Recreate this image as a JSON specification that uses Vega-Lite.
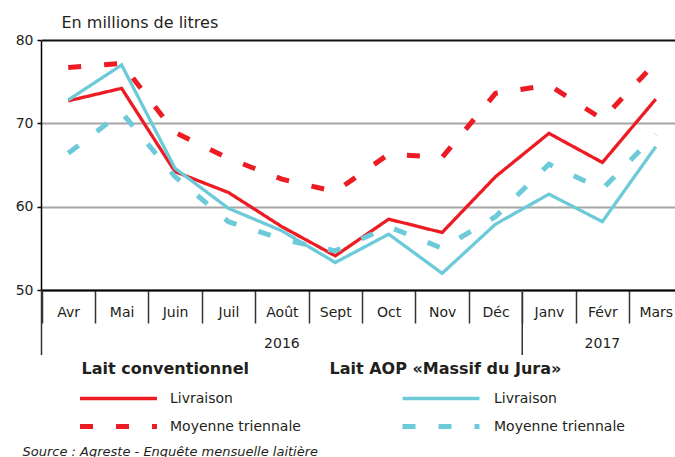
{
  "$schema": "https://vega.github.io/schema/vega-lite/v6.json",
  "autosize": {"type": "none"},
  "padding": {"left": 41, "top": 40, "right": 0, "bottom": 167},
  "width": 634,
  "height": 250,
  "background": "white",
  "config": {"view": {"stroke": null}, "font": "DejaVu Sans"},
  "datasets": {
    "conv": [
      {"month": "Avr", "type": "Livraison", "value": 72.7},
      {"month": "Mai", "type": "Livraison", "value": 74.2},
      {"month": "Juin", "type": "Livraison", "value": 64.2},
      {"month": "Juil", "type": "Livraison", "value": 61.7},
      {"month": "Août", "type": "Livraison", "value": 57.6},
      {"month": "Sept", "type": "Livraison", "value": 54.1},
      {"month": "Oct", "type": "Livraison", "value": 58.5},
      {"month": "Nov", "type": "Livraison", "value": 56.9},
      {"month": "Déc", "type": "Livraison", "value": 63.6},
      {"month": "Janv", "type": "Livraison", "value": 68.8},
      {"month": "Févr", "type": "Livraison", "value": 65.3},
      {"month": "Mars", "type": "Livraison", "value": 72.9},
      {"month": "Avr", "type": "Moyenne triennale", "value": 76.7},
      {"month": "Mai", "type": "Moyenne triennale", "value": 77.2},
      {"month": "Juin", "type": "Moyenne triennale", "value": 68.9},
      {"month": "Juil", "type": "Moyenne triennale", "value": 65.8},
      {"month": "Août", "type": "Moyenne triennale", "value": 63.3},
      {"month": "Sept", "type": "Moyenne triennale", "value": 61.8},
      {"month": "Oct", "type": "Moyenne triennale", "value": 66.3},
      {"month": "Nov", "type": "Moyenne triennale", "value": 65.9},
      {"month": "Déc", "type": "Moyenne triennale", "value": 73.6},
      {"month": "Janv", "type": "Moyenne triennale", "value": 74.6},
      {"month": "Févr", "type": "Moyenne triennale", "value": 70.5},
      {"month": "Mars", "type": "Moyenne triennale", "value": 77.3}
    ],
    "aop": [
      {"month": "Avr", "type": "Livraison", "value": 72.8},
      {"month": "Mai", "type": "Livraison", "value": 77.0},
      {"month": "Juin", "type": "Livraison", "value": 64.6},
      {"month": "Juil", "type": "Livraison", "value": 59.8},
      {"month": "Août", "type": "Livraison", "value": 57.1},
      {"month": "Sept", "type": "Livraison", "value": 53.3},
      {"month": "Oct", "type": "Livraison", "value": 56.7},
      {"month": "Nov", "type": "Livraison", "value": 52.0},
      {"month": "Déc", "type": "Livraison", "value": 57.9},
      {"month": "Janv", "type": "Livraison", "value": 61.5},
      {"month": "Févr", "type": "Livraison", "value": 58.2},
      {"month": "Mars", "type": "Livraison", "value": 67.2},
      {"month": "Avr", "type": "Moyenne triennale", "value": 66.4},
      {"month": "Mai", "type": "Moyenne triennale", "value": 71.3},
      {"month": "Juin", "type": "Moyenne triennale", "value": 63.6},
      {"month": "Juil", "type": "Moyenne triennale", "value": 58.2},
      {"month": "Août", "type": "Moyenne triennale", "value": 56.1},
      {"month": "Sept", "type": "Moyenne triennale", "value": 54.7},
      {"month": "Oct", "type": "Moyenne triennale", "value": 57.6},
      {"month": "Nov", "type": "Moyenne triennale", "value": 55.0},
      {"month": "Déc", "type": "Moyenne triennale", "value": 58.8},
      {"month": "Janv", "type": "Moyenne triennale", "value": 65.1},
      {"month": "Févr", "type": "Moyenne triennale", "value": 62.1},
      {"month": "Mars", "type": "Moyenne triennale", "value": 68.7}
    ],
    "separators": [{"month": "Avr"}, {"month": "Janv"}],
    "years": [{"month": "Août", "year": "2016"}, {"month": "Févr", "year": "2017"}]
  },
  "encoding": {
    "x": {
      "field": "month",
      "type": "ordinal",
      "sort": ["Avr", "Mai", "Juin", "Juil", "Août", "Sept", "Oct", "Nov", "Déc", "Janv", "Févr", "Mars"],
      "title": "Source : Agreste - Enquête mensuelle laitière",
      "scale": {"type": "band", "range": [0.5, 641.5], "paddingInner": 0, "paddingOuter": 0},
      "axis": {
        "titleX": -19, "titleY": 165, "titleAlign": "left", "titleBaseline": "alphabetic",
        "titleFont": "DejaVu Sans", "titleFontSize": 13, "titleFontStyle": "italic", "titleFontWeight": "normal", "titleColor": "#231f20",
        "tickBand": "extent", "tickSize": 33, "tickColor": "#333333", "tickWidth": 1.5,
        "domainColor": "#000000", "domainWidth": 1.5,
        "labelFont": "DejaVu Sans", "labelFontSize": 14, "labelColor": "#231f20", "labelPadding": -18, "labelAngle": 0,
        "labelOverlap": false, "grid": false
      }
    }
  },
  "layer": [
    {
      "data": {"name": "conv"},
      "mark": {"type": "line", "color": "#ed1c24"},
      "encoding": {
        "y": {
          "field": "value",
          "type": "quantitative",
          "title": "En millions de litres",
          "scale": {"domain": [50, 80], "nice": false, "zero": false},
          "axis": {
            "values": [50, 60, 70, 80],
            "titleAngle": 0, "titleX": 20, "titleY": -13, "titleAlign": "left", "titleBaseline": "alphabetic",
            "titleFont": "DejaVu Sans", "titleFontSize": 16, "titleFontWeight": "normal", "titleColor": "#231f20",
            "grid": true,
            "gridColor": {"condition": {"test": "datum.value === 80 || datum.value === 50", "value": "#111111"}, "value": "#a6a6a6"},
            "gridWidth": 1.8,
            "domainColor": "#000000", "domainWidth": 1.5,
            "tickColor": "#000000", "tickSize": 4, "tickWidth": 1.5,
            "labelFont": "DejaVu Sans", "labelFontSize": 14, "labelColor": "#231f20", "labelPadding": 4
          }
        },
        "strokeDash": {
          "field": "type", "type": "nominal",
          "scale": {"range": [[1, 0], [13, 23]]},
          "legend": {
            "title": "Lait conventionnel", "orient": "none", "legendX": 40.5, "legendY": 321, "padding": 0,
            "titleFont": "DejaVu Sans", "titleFontSize": 16, "titleFontWeight": "bold", "titleColor": "#231f20", "titlePadding": 10, "titleLimit": 400,
            "labelFont": "DejaVu Sans", "labelFontSize": 14, "labelColor": "#231f20", "labelLimit": 300,
            "symbolType": "M-4,0H4", "symbolSize": 370, "symbolStrokeColor": "#ed1c24", "symbolStrokeWidth": 4,
            "symbolOffset": 24.5, "labelOffset": 39, "rowPadding": 8
          }
        },
        "strokeWidth": {"field": "type", "type": "ordinal", "scale": {"range": [3.3, 5]}, "legend": null}
      }
    },
    {
      "data": {"name": "aop"},
      "mark": {"type": "line", "color": "#6dcad9"},
      "encoding": {
        "y": {"field": "value", "type": "quantitative", "title": "En millions de litres", "scale": {"domain": [50, 80], "nice": false, "zero": false}},
        "strokeDash": {
          "field": "type", "type": "nominal",
          "scale": {"range": [[1, 0], [13, 23]]},
          "legend": {
            "title": "Lait AOP «Massif du Jura»", "orient": "none", "legendX": 288.5, "legendY": 321, "padding": 0,
            "titleFont": "DejaVu Sans", "titleFontSize": 16, "titleFontWeight": "bold", "titleColor": "#231f20", "titlePadding": 10, "titleLimit": 400,
            "labelFont": "DejaVu Sans", "labelFontSize": 14, "labelColor": "#231f20", "labelLimit": 300,
            "symbolType": "M-4,0H4", "symbolSize": 370, "symbolStrokeColor": "#6dcad9", "symbolStrokeWidth": 4,
            "symbolOffset": 99, "labelOffset": 40.5, "rowPadding": 8
          }
        },
        "strokeWidth": {"field": "type", "type": "ordinal", "scale": {"range": [3.3, 5]}, "legend": null}
      }
    },
    {
      "data": {"name": "separators"},
      "mark": {"type": "rule", "color": "#333333", "strokeWidth": 1.5, "clip": false},
      "encoding": {
        "x": {"field": "month", "type": "ordinal", "bandPosition": 0},
        "y": {"datum": 50, "type": "quantitative", "title": "En millions de litres", "scale": {"domain": [50, 80], "nice": false, "zero": false}},
        "y2": {"datum": 42.2}
      }
    },
    {
      "data": {"name": "years"},
      "mark": {"type": "text", "font": "DejaVu Sans", "fontSize": 14, "color": "#231f20", "baseline": "middle", "clip": false},
      "encoding": {
        "y": {"datum": 43.55, "type": "quantitative", "title": "En millions de litres", "scale": {"domain": [50, 80], "nice": false, "zero": false}},
        "text": {"field": "year"}
      }
    }
  ],
  "resolve": {
    "scale": {"strokeDash": "independent", "strokeWidth": "independent"},
    "legend": {"strokeDash": "independent"}
  }
}
